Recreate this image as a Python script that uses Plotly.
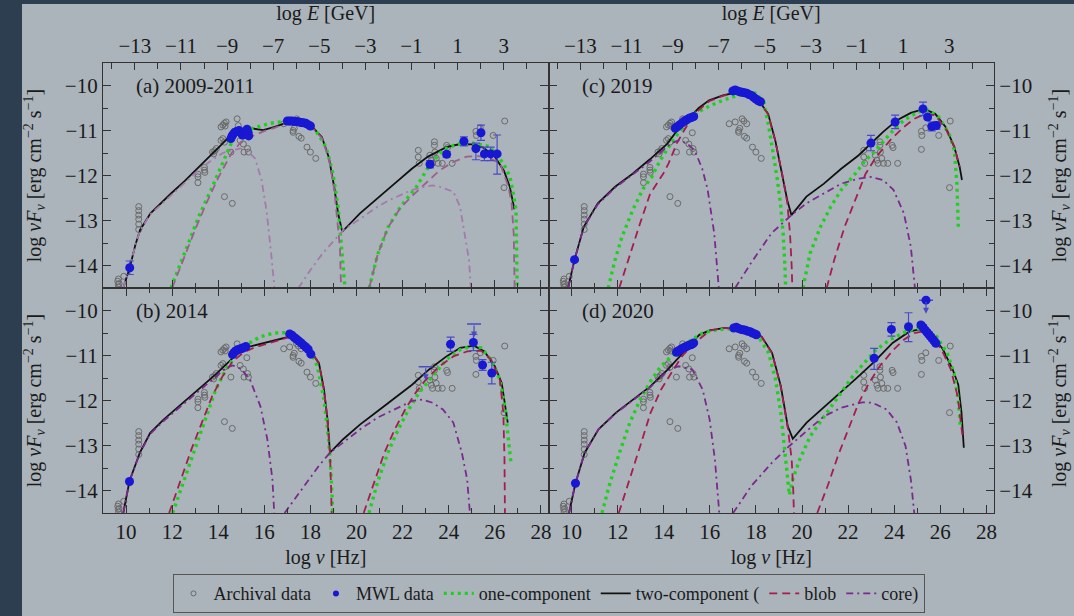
import plotly.graph_objects as go

# ---------------- axes ----------------
X_RANGE = [9.0, 28.33]
Y_RANGE = [-14.5, -9.5]
LOG_H_GEV_S = -23.383  # log E[GeV] = log nu[Hz] + log h[GeV s]

# ---------------- archival data (identical in all panels) ----------------
ARCH_X = [9.64, 9.66, 9.68, 9.70, 9.67, 9.9,
          10.55, 10.55, 10.55, 10.55, 10.55, 10.55,
          13.12, 13.12, 13.12, 13.4, 13.4, 13.42,
          13.75, 13.8, 13.85, 13.92, 14.12, 14.2, 14.27,
          14.12, 14.2, 14.27, 14.34, 14.3, 14.82, 14.87,
          14.55, 14.95, 15.09, 15.12, 15.27, 15.31, 15.24,
          14.27, 14.61,
          16.84, 17.1, 17.25, 17.3, 17.4, 17.48, 17.25, 17.5, 17.6, 17.85, 18.0, 18.23, 17.6,
          22.68, 22.68, 22.72, 23.18, 23.25, 23.3, 23.38, 23.38, 23.4, 23.46, 23.54,
          23.72, 23.91, 23.95, 24.15, 25.18, 25.2, 25.37, 25.18, 25.93, 26.4, 26.43]
ARCH_Y = [-14.35, -14.42, -14.48, -14.40, -14.3, -14.24,
          -12.69, -12.78, -12.88, -12.97, -13.08, -13.2,
          -11.97, -12.03, -12.16, -11.82, -11.88, -11.93,
          -11.48, -11.52, -11.45, -11.4, -11.22, -11.18, -11.26,
          -10.92, -10.88, -10.84, -10.81, -10.9, -10.74, -10.89,
          -11.48, -11.22, -11.3, -11.48, -11.4, -11.48, -11.05,
          -12.47, -12.62,
          -10.85, -10.81, -11.0, -10.95, -10.74, -10.79, -11.04, -11.13, -11.17, -11.37, -11.48, -11.62, -10.85,
          -11.44, -11.59, -11.73, -11.55, -11.66, -11.73, -11.25, -11.33, -11.48, -11.62, -11.73,
          -11.73, -11.33, -11.38, -11.73, -11.02, -11.11, -10.94, -11.42, -11.11, -12.27, -10.79]

# ---------------- panel (a) 2009-2011 ----------------
A_ONE_SYNC_X = [11.95, 12.55, 13.15, 13.72, 14.22, 14.44, 14.66, 15.24, 15.67, 16.25, 16.82, 17.4, 17.9, 18.23, 18.68, 18.98, 19.2, 19.35, 19.5]
A_ONE_SYNC_Y = [-14.5, -13.73, -12.92, -12.28, -11.69, -11.43, -11.17, -10.99, -10.92, -10.84, -10.8, -10.8, -10.86, -11.0, -11.37, -11.96, -12.7, -13.58, -14.5]
A_ONE_IC_X = [20.55, 20.92, 21.37, 21.9, 22.6, 23.19, 23.77, 24.35, 25.07, 25.79, 26.37, 26.66, 26.8, 26.92, 26.97]
A_ONE_IC_Y = [-14.5, -13.75, -13.15, -12.7, -12.25, -11.75, -11.43, -11.3, -11.28, -11.36, -11.73, -12.03, -12.4, -12.77, -14.5]
A_TWO_X = [9.88, 10.16, 10.4, 10.61, 11.06, 11.5, 11.95, 12.55, 13.15, 13.75, 14.2, 14.6, 14.95, 15.4, 15.95, 16.45, 17.0, 17.6, 18.1, 18.5, 18.8, 19.03, 19.2, 19.38,
           20.15, 20.9, 21.65, 22.4, 23.1, 23.9, 24.5, 25.0, 25.5, 26.0, 26.4, 26.65, 26.85]
A_TWO_Y = [-14.5, -14.05, -13.55, -13.21, -12.84, -12.62, -12.40, -12.12, -11.81, -11.5, -11.28, -11.08, -10.97, -10.95, -10.99, -10.92, -10.82, -10.84, -10.93, -11.15, -11.6, -12.25, -12.84, -13.25,
           -12.84, -12.52, -12.18, -11.85, -11.58, -11.37, -11.3, -11.31, -11.38, -11.58, -11.9, -12.25, -12.75]
A_BLOB_SYNC_X = [12.0, 12.5, 13.0, 13.5, 14.0, 14.58, 15.0, 15.54, 15.96, 16.45, 17.0, 17.6, 18.1, 18.5, 18.8, 19.03, 19.18, 19.28, 19.33]
A_BLOB_SYNC_Y = [-14.5, -13.85, -13.2, -12.6, -12.05, -11.5, -11.25, -11.11, -11.02, -10.94, -10.83, -10.86, -10.95, -11.17, -11.62, -12.3, -13.0, -13.6, -14.5]
A_BLOB_IC_X = [20.55, 20.92, 21.37, 21.9, 22.42, 23.16, 23.62, 24.2, 24.78, 25.3, 25.8, 26.23, 26.59, 26.73, 26.82, 26.86]
A_BLOB_IC_Y = [-14.5, -13.75, -13.15, -12.72, -12.45, -12.1, -11.88, -11.7, -11.58, -11.57, -11.62, -11.73, -12.25, -12.62, -13.3, -14.5]
A_CORE_SYNC_X = [9.88, 10.16, 10.4, 10.61, 11.06, 11.5, 11.95, 12.55, 13.15, 13.72, 14.2, 14.66, 14.95, 15.25, 15.6, 15.88, 16.1, 16.29, 16.44]
A_CORE_SYNC_Y = [-14.5, -14.05, -13.55, -13.22, -12.86, -12.65, -12.44, -12.15, -11.88, -11.66, -11.5, -11.43, -11.4, -11.45, -11.62, -12.1, -12.8, -13.7, -14.5]
A_CORE_IC_X = [17.48, 18.0, 18.53, 19.0, 19.43, 20.2, 20.92, 21.45, 22.42, 22.9, 23.3, 23.62, 24.2, 24.49, 24.7, 24.88, 24.96]
A_CORE_IC_Y = [-14.5, -14.1, -13.73, -13.45, -13.21, -12.95, -12.69, -12.54, -12.32, -12.26, -12.22, -12.25, -12.36, -12.69, -13.3, -13.87, -14.5]
A_MWL_X = [10.16,
           14.55, 14.6, 14.65, 14.72, 14.8, 14.9, 14.98, 15.05, 15.1, 15.18, 15.25, 15.3, 15.32,
           17.0, 17.1, 17.2, 17.3, 17.4, 17.5, 17.6, 17.7, 17.8, 17.9, 18.0,
           23.19, 23.91, 24.66, 25.18, 25.4, 25.55, 25.82, 26.1]
A_MWL_Y = [-14.05,
           -11.18, -11.12, -11.08, -11.04, -11.02, -11.0, -11.05, -11.1, -11.08, -11.03, -10.97, -11.05, -11.12,
           -10.79, -10.79, -10.79, -10.8, -10.8, -10.81, -10.82, -10.83, -10.84, -10.87, -10.9,
           -11.75, -11.53, -11.24, -11.40, -11.05, -11.52, -11.52, -11.52]
A_MWL_EP = [0.15] + [0] * 24 + [0.08, 0.06, 0.1, 0.12, 0.17, 0.15, 0.15, 0.42]
A_MWL_EM = [0.15] + [0] * 24 + [0.08, 0.06, 0.1, 0.25, 0.17, 0.15, 0.15, 0.45]

# ---------------- panel (b) 2014 ----------------
B_ONE_SYNC_X = [12.02, 12.54, 12.99, 13.44, 13.89, 14.33, 14.78, 15.23, 15.83, 16.43, 17.03, 17.47, 17.92, 18.3, 18.59, 18.79, 18.89, 18.97]
B_ONE_SYNC_Y = [-14.5, -13.75, -13.08, -12.42, -11.76, -11.31, -10.98, -10.76, -10.58, -10.5, -10.49, -10.58, -10.8, -11.24, -11.98, -12.86, -13.6, -14.5]
B_ONE_IC_X = [20.54, 20.91, 21.36, 21.81, 22.26, 22.71, 23.3, 23.9, 24.5, 24.95, 25.4, 25.84, 26.22, 26.44, 26.59, 26.7]
B_ONE_IC_Y = [-14.5, -13.82, -13.16, -12.64, -12.2, -11.83, -11.46, -11.09, -10.87, -10.8, -10.83, -11.09, -11.54, -12.13, -12.86, -13.38]
B_TWO_X = [9.88, 10.15, 10.6, 11.05, 11.64, 12.39, 13.14, 13.89, 14.48, 14.93, 15.38, 15.98, 16.58, 17.03, 17.47, 17.92, 18.37, 18.59, 18.74, 18.85,
           19.42, 20.16, 20.91, 21.66, 22.41, 23.15, 23.9, 24.5, 25.1, 25.55, 26.0, 26.3, 26.47, 26.56]
B_TWO_Y = [-14.5, -13.79, -13.16, -12.72, -12.42, -12.09, -11.76, -11.42, -11.13, -10.91, -10.8, -10.72, -10.65, -10.59, -10.69, -10.83, -11.17, -11.76, -12.42, -13.16,
           -12.86, -12.53, -12.24, -11.94, -11.65, -11.31, -11.02, -10.83, -10.78, -10.91, -11.24, -11.61, -12.13, -12.49]
B_BLOB_SYNC_X = [11.87, 12.39, 12.84, 13.29, 13.74, 14.19, 14.63, 15.08, 15.53, 15.98, 16.58, 17.03, 17.47, 17.92, 18.37, 18.59, 18.74, 18.85, 18.9, 18.92]
B_BLOB_SYNC_Y = [-14.5, -13.75, -13.08, -12.49, -11.9, -11.46, -11.13, -10.94, -10.83, -10.76, -10.67, -10.6, -10.69, -10.84, -11.18, -11.77, -12.43, -13.2, -14.0, -14.5]
B_BLOB_IC_X = [20.31, 20.76, 21.21, 21.66, 22.11, 22.56, 23.0, 23.6, 24.2, 24.8, 25.4, 25.84, 26.22, 26.37, 26.42, 26.44]
B_BLOB_IC_Y = [-14.5, -13.82, -13.16, -12.64, -12.2, -11.83, -11.54, -11.24, -11.02, -10.91, -10.89, -11.09, -11.54, -12.27, -13.3, -14.5]
B_CORE_SYNC_X = [9.88, 10.15, 10.6, 11.05, 11.64, 12.39, 13.14, 13.89, 14.33, 14.63, 15.0, 15.38, 15.83, 16.13, 16.35, 16.43]
B_CORE_SYNC_Y = [-14.5, -13.79, -13.17, -12.74, -12.45, -12.12, -11.8, -11.47, -11.28, -11.22, -11.3, -11.54, -12.13, -12.86, -13.75, -14.5]
B_CORE_IC_X = [16.88, 17.62, 18.37, 18.85, 19.42, 20.16, 20.91, 21.66, 22.41, 22.86, 23.3, 23.75, 24.2, 24.57, 24.8, 24.92]
B_CORE_IC_Y = [-14.5, -13.97, -13.45, -13.16, -12.94, -12.64, -12.38, -12.2, -12.01, -11.98, -12.05, -12.2, -12.49, -13.16, -13.75, -14.5]
B_MWL_X = [10.15,
           14.62, 14.68, 14.75, 14.82, 14.9, 14.98, 15.05, 15.12, 15.2,
           17.1, 17.2, 17.3, 17.4, 17.5, 17.6, 17.7, 17.8, 17.9, 18.02,
           24.08, 25.07, 25.47, 25.87]
B_MWL_Y = [-13.8,
           -10.98, -10.94, -10.9, -10.88, -10.86, -10.85, -10.84, -10.82, -10.8,
           -10.52, -10.55, -10.6, -10.64, -10.68, -10.72, -10.77, -10.81, -10.86, -10.97,
           -10.75, -10.71, -11.21, -11.39]
B_MWL_EP = [0] + [0] * 19 + [0.16, 0.18, 0.12, 0.24]
B_MWL_EM = [0] + [0] * 19 + [0.16, 0.18, 0.12, 0.24]
B_UL_X = [23.0, 25.1]
B_UL_Y = [-11.25, -10.3]

# ---------------- panel (c) 2019 ----------------
C_ONE_SYNC_X = [11.59, 11.89, 12.19, 12.65, 13.1, 13.48, 13.85, 14.5, 15.37, 16.09, 16.68, 17.26, 17.98, 18.34, 18.56, 18.78, 18.92, 19.06, 19.18, 19.26, 19.29]
C_ONE_SYNC_Y = [-14.5, -13.87, -13.36, -12.77, -12.3, -12.03, -11.66, -11.14, -10.62, -10.43, -10.31, -10.21, -10.17, -10.36, -10.92, -11.58, -12.06, -12.6, -13.28, -14.02, -14.5]
C_ONE_IC_X = [20.04, 20.35, 20.8, 21.25, 21.7, 22.31, 22.76, 23.21, 23.82, 24.42, 25.02, 25.48, 25.93, 26.38, 26.61, 26.72, 26.78]
C_ONE_IC_Y = [-14.5, -13.73, -13.14, -12.69, -12.32, -11.96, -11.66, -11.44, -11.07, -10.77, -10.59, -10.55, -10.7, -11.07, -11.44, -12.18, -13.14]
C_TWO_X = [9.85, 10.13, 10.53, 11.14, 11.89, 12.65, 13.4, 14.16, 14.61, 15.06, 15.52, 15.97, 16.57, 17.18, 17.63, 18.08, 18.53, 18.84, 19.14, 19.36, 19.54,
           20.19, 20.95, 21.7, 22.46, 22.99, 23.52, 24.12, 24.72, 25.3, 25.78, 26.23, 26.61, 26.84, 26.94]
C_TWO_Y = [-14.5, -13.87, -13.14, -12.62, -12.25, -11.96, -11.64, -11.29, -10.98, -10.74, -10.5, -10.33, -10.22, -10.15, -10.17, -10.3, -10.63, -11.22, -11.96, -12.55, -12.88,
           -12.47, -12.18, -11.85, -11.55, -11.29, -11.03, -10.77, -10.61, -10.52, -10.63, -10.92, -11.37, -11.81, -12.1]
C_BLOB_SYNC_X = [12.07, 12.5, 12.95, 13.4, 13.99, 14.21, 14.57, 15.0, 15.4, 15.97, 16.57, 17.18, 17.63, 18.08, 18.53, 18.84, 19.14, 19.36, 19.48, 19.55, 19.58]
C_BLOB_SYNC_Y = [-14.5, -13.8, -13.1, -12.42, -11.95, -11.73, -11.28, -10.9, -10.6, -10.35, -10.23, -10.16, -10.18, -10.31, -10.64, -11.23, -11.97, -12.6, -13.3, -14.0, -14.5]
C_BLOB_IC_X = [21.07, 21.4, 21.85, 22.31, 22.76, 23.21, 23.82, 24.42, 24.87, 25.33, 25.78, 26.23, 26.61, 26.84]
C_BLOB_IC_Y = [-14.5, -13.87, -13.14, -12.55, -11.96, -11.59, -11.22, -10.92, -10.74, -10.63, -10.66, -10.96, -11.37, -11.81]
C_CORE_SYNC_X = [9.85, 10.13, 10.53, 11.14, 11.89, 12.65, 13.4, 14.0, 14.35, 14.64, 15.0, 15.35, 15.67, 15.9, 16.19, 16.39]
C_CORE_SYNC_Y = [-14.5, -13.87, -13.15, -12.64, -12.27, -11.98, -11.69, -11.42, -11.28, -11.22, -11.28, -11.45, -11.85, -12.3, -13.28, -14.5]
C_CORE_IC_X = [17.1, 17.78, 18.68, 19.54, 20.19, 20.95, 21.7, 22.46, 22.99, 23.52, 23.97, 24.42, 24.72, 24.9]
C_CORE_IC_Y = [-14.5, -13.95, -13.28, -12.88, -12.62, -12.4, -12.18, -12.07, -12.03, -12.1, -12.32, -12.84, -13.58, -14.5]
C_MWL_X = [10.13,
           14.5, 14.6, 14.7, 14.8, 14.9, 15.0, 15.1, 15.2, 15.3,
           17.0, 17.1, 17.2, 17.3, 17.4, 17.5, 17.6, 17.7, 17.8, 17.9, 18.0, 18.1, 18.2,
           22.99, 24.04, 25.25, 25.45, 25.63, 25.83]
C_MWL_Y = [-13.87,
           -10.95, -10.91, -10.87, -10.83, -10.79, -10.76, -10.73, -10.71, -10.69,
           -10.12, -10.1, -10.12, -10.14, -10.15, -10.16, -10.17, -10.2, -10.22, -10.26, -10.3, -10.34, -10.36,
           -11.28, -10.81, -10.52, -10.7, -10.91, -10.89]
C_MWL_EP = [0] * 23 + [0.17, 0.15, 0.15, 0.05, 0.1, 0.08]
C_MWL_EM = [0] * 23 + [0.17, 0.15, 0.15, 0.05, 0.1, 0.08]

# ---------------- panel (d) 2020 ----------------
D_ONE_X = [11.32, 11.63, 12.08, 12.53, 12.98, 13.43, 13.88, 14.49, 15.09, 15.69, 16.29, 16.89, 17.5, 18.1, 18.55, 18.85, 19.08, 19.23, 19.33, 19.45,
           19.6, 19.9, 20.36, 20.96, 21.56, 22.16, 22.62, 23.2, 23.78, 24.5, 25.0, 25.38, 25.85, 26.3, 26.6, 26.78, 26.87]
D_ONE_Y = [-14.5, -13.9, -13.16, -12.49, -11.98, -11.57, -11.24, -10.94, -10.69, -10.5, -10.43, -10.41, -10.43, -10.58, -10.94, -11.53, -12.27, -13.01, -13.6, -14.1,
           -13.75, -13.31, -12.79, -12.35, -11.9, -11.49, -11.21, -10.88, -10.66, -10.47, -10.4, -10.42, -10.58, -10.95, -11.4, -12.0, -12.57]
D_TWO_X = [9.89, 10.17, 10.57, 11.17, 11.93, 12.68, 13.43, 14.18, 14.64, 15.09, 15.54, 15.99, 16.59, 17.19, 17.8, 18.25, 18.7, 19.08, 19.38, 19.6,
           20.2, 20.96, 21.71, 22.33, 23.13, 23.93, 24.65, 25.08, 25.52, 26.1, 26.53, 26.78, 26.92, 27.02]
D_TWO_Y = [-14.5, -13.84, -13.16, -12.64, -12.27, -11.98, -11.68, -11.31, -11.06, -10.8, -10.54, -10.44, -10.39, -10.39, -10.46, -10.58, -10.94, -11.68, -12.57, -12.85,
           -12.49, -12.15, -11.8, -11.52, -11.14, -10.72, -10.47, -10.42, -10.5, -10.85, -11.3, -11.65, -12.27, -13.05]
D_BLOB_SYNC_X = [12.05, 12.53, 12.98, 13.43, 13.88, 14.33, 14.79, 15.24, 15.69, 16.0, 16.6, 17.2, 17.8, 18.25, 18.7, 19.08, 19.38, 19.55, 19.62, 19.65]
D_BLOB_SYNC_Y = [-14.5, -13.75, -13.01, -12.27, -11.76, -11.39, -11.02, -10.76, -10.58, -10.45, -10.39, -10.4, -10.47, -10.59, -10.95, -11.7, -12.6, -13.3, -14.0, -14.5]
D_BLOB_IC_X = [20.66, 21.11, 21.56, 22.01, 22.46, 22.91, 23.37, 23.97, 24.42, 24.87, 25.32, 25.7, 26.1, 26.45, 26.75, 26.98]
D_BLOB_IC_Y = [-14.5, -13.9, -13.23, -12.64, -12.05, -11.61, -11.24, -10.87, -10.65, -10.5, -10.46, -10.58, -10.92, -11.3, -11.9, -12.86]
D_CORE_SYNC_X = [9.89, 10.17, 10.57, 11.17, 11.93, 12.68, 13.43, 14.0, 14.3, 14.64, 15.24, 15.69, 15.99, 16.22, 16.41]
D_CORE_SYNC_Y = [-14.5, -13.84, -13.16, -12.64, -12.28, -12.0, -11.7, -11.42, -11.3, -11.24, -11.31, -11.76, -12.42, -13.31, -14.5]
D_CORE_IC_X = [17.01, 17.8, 18.7, 19.45, 20.2, 20.96, 21.71, 22.61, 23.06, 23.67, 24.12, 24.49, 24.72, 24.87]
D_CORE_IC_Y = [-14.5, -13.9, -13.38, -13.01, -12.68, -12.35, -12.16, -12.04, -12.05, -12.2, -12.49, -13.01, -13.75, -14.5]
D_MWL_X = [10.17,
           14.55, 14.62, 14.7, 14.78, 14.86, 14.94, 15.02, 15.1, 15.18, 15.26, 15.3,
           17.04, 17.15, 17.25, 17.35, 17.45, 17.55, 17.65, 17.75, 17.85, 17.95, 18.02,
           23.13, 23.88, 24.62,
           25.16, 25.25, 25.33, 25.42, 25.5, 25.58, 25.66, 25.74, 25.81]
D_MWL_Y = [-13.84,
           -10.93, -10.9, -10.88, -10.85, -10.83, -10.81, -10.79, -10.77, -10.76, -10.74, -10.72,
           -10.39, -10.37, -10.4, -10.42, -10.43, -10.44, -10.46, -10.47, -10.5, -10.52, -10.54,
           -11.06, -10.42, -10.36,
           -10.32, -10.37, -10.43, -10.48, -10.53, -10.58, -10.63, -10.68, -10.73]
D_MWL_EP = [0] * 23 + [0.22, 0.15, 0.31] + [0.05] * 9
D_MWL_EM = [0] * 23 + [0.25, 0.15, 0.33] + [0.05] * 9
D_UL_X = [25.38]
D_UL_Y = [-9.77]

# ---------------- styling ----------------
FONT = "Liberation Serif"
BG = "#abb4bb"
DARK = "#2c3e50"
FRAME = "#333333"
TXT = "#1a1a1a"
GREEN = "#1fd01f"
BLACK = "#111111"
BLOB = "#a51d4f"
CORE = "#7a2a8c"
BLOB_FADED = "#9b5f8e"
CORE_FADED = "#a47aaa"
MWL = "#1717d4"
MWL_ERR = "#4a4ac4"
ARCH = "#6a6a6a"

fig = go.Figure()


def seg(a, b):
    return list(a) + [None] + list(b)


def add_panel(xa, ya, one_x, one_y, two_x, two_y, blob_x, blob_y, core_x, core_y,
              mwl_x, mwl_y, ep, em, blob_col, core_col, ul_x=None, ul_y=None, ul_dot=False):
    common = dict(xaxis=xa, yaxis=ya, showlegend=False, hoverinfo="skip")
    fig.add_trace(go.Scatter(x=ARCH_X, y=ARCH_Y, mode="markers",
                             marker=dict(symbol="circle-open", size=6, color=ARCH, line=dict(width=1)),
                             **common))
    fig.add_trace(go.Scatter(x=two_x, y=two_y, mode="lines",
                             line=dict(color=BLACK, width=1.8), **common))
    fig.add_trace(go.Scatter(x=one_x, y=one_y, mode="lines",
                             line=dict(color=GREEN, width=3.4, dash="3px,4px"), **common))
    fig.add_trace(go.Scatter(x=blob_x, y=blob_y, mode="lines",
                             line=dict(color=blob_col, width=1.8, dash="8px,5px"), **common))
    fig.add_trace(go.Scatter(x=core_x, y=core_y, mode="lines",
                             line=dict(color=core_col, width=1.8, dash="7px,4px,2px,4px"), **common))
    fig.add_trace(go.Scatter(x=mwl_x, y=mwl_y, mode="markers",
                             marker=dict(symbol="circle", size=9, color=MWL),
                             error_y=dict(type="data", symmetric=False, array=ep, arrayminus=em,
                                          color=MWL_ERR, thickness=1.2, width=4),
                             **common))
    if ul_x:
        fig.add_trace(go.Scatter(x=ul_x, y=ul_y, mode="markers",
                                 marker=dict(symbol="line-ew", size=10, line=dict(color=MWL_ERR, width=1.5)),
                                 **common))
        if ul_dot:
            fig.add_trace(go.Scatter(x=ul_x, y=ul_y, mode="markers",
                                     marker=dict(symbol="circle", size=9, color=MWL), **common))
        for ux, uy in zip(ul_x, ul_y):
            fig.add_annotation(x=ux, y=uy - 0.3, ax=ux, ay=uy, xref=xa, yref=ya,
                               axref=xa, ayref=ya, showarrow=True, arrowhead=2,
                               arrowsize=1, arrowwidth=1.2, arrowcolor=MWL_ERR, text="")


add_panel("x", "y", seg(A_ONE_SYNC_X, A_ONE_IC_X), seg(A_ONE_SYNC_Y, A_ONE_IC_Y), A_TWO_X, A_TWO_Y,
          seg(A_BLOB_SYNC_X, A_BLOB_IC_X), seg(A_BLOB_SYNC_Y, A_BLOB_IC_Y),
          seg(A_CORE_SYNC_X, A_CORE_IC_X), seg(A_CORE_SYNC_Y, A_CORE_IC_Y),
          A_MWL_X, A_MWL_Y, A_MWL_EP, A_MWL_EM, BLOB_FADED, CORE_FADED)
add_panel("x2", "y2", seg(C_ONE_SYNC_X, C_ONE_IC_X), seg(C_ONE_SYNC_Y, C_ONE_IC_Y), C_TWO_X, C_TWO_Y,
          seg(C_BLOB_SYNC_X, C_BLOB_IC_X), seg(C_BLOB_SYNC_Y, C_BLOB_IC_Y),
          seg(C_CORE_SYNC_X, C_CORE_IC_X), seg(C_CORE_SYNC_Y, C_CORE_IC_Y),
          C_MWL_X, C_MWL_Y, C_MWL_EP, C_MWL_EM, BLOB, CORE)
add_panel("x3", "y3", seg(B_ONE_SYNC_X, B_ONE_IC_X), seg(B_ONE_SYNC_Y, B_ONE_IC_Y), B_TWO_X, B_TWO_Y,
          seg(B_BLOB_SYNC_X, B_BLOB_IC_X), seg(B_BLOB_SYNC_Y, B_BLOB_IC_Y),
          seg(B_CORE_SYNC_X, B_CORE_IC_X), seg(B_CORE_SYNC_Y, B_CORE_IC_Y),
          B_MWL_X, B_MWL_Y, B_MWL_EP, B_MWL_EM, BLOB, CORE, B_UL_X, B_UL_Y)
add_panel("x4", "y4", D_ONE_X, D_ONE_Y, D_TWO_X, D_TWO_Y,
          seg(D_BLOB_SYNC_X, D_BLOB_IC_X), seg(D_BLOB_SYNC_Y, D_BLOB_IC_Y),
          seg(D_CORE_SYNC_X, D_CORE_IC_X), seg(D_CORE_SYNC_Y, D_CORE_IC_Y),
          D_MWL_X, D_MWL_Y, D_MWL_EP, D_MWL_EM, BLOB, CORE, D_UL_X, D_UL_Y, ul_dot=True)

# empty traces so the top energy axes get drawn
fig.add_trace(go.Scatter(x=[], y=[], xaxis="x5", yaxis="y", showlegend=False, hoverinfo="skip"))
fig.add_trace(go.Scatter(x=[], y=[], xaxis="x6", yaxis="y2", showlegend=False, hoverinfo="skip"))

# legend-only entries
LEG = dict(x=[None], y=[None], xaxis="x", yaxis="y", hoverinfo="skip", showlegend=True)
fig.add_trace(go.Scatter(name="Archival data", mode="markers",
                         marker=dict(symbol="circle-open", size=5, color=ARCH, line=dict(width=1)), **LEG))
fig.add_trace(go.Scatter(name="MWL data", mode="markers",
                         marker=dict(symbol="circle", size=6, color=MWL), **LEG))
fig.add_trace(go.Scatter(name="one-component", mode="lines",
                         line=dict(color=GREEN, width=3.4, dash="3px,4px"), **LEG))
fig.add_trace(go.Scatter(name="two-component (", mode="lines",
                         line=dict(color=BLACK, width=1.8), **LEG))
fig.add_trace(go.Scatter(name="blob", mode="lines",
                         line=dict(color=BLOB, width=1.8, dash="8px,5px"), **LEG))
fig.add_trace(go.Scatter(name="core)", mode="lines",
                         line=dict(color=CORE, width=1.8, dash="7px,4px,2px,4px"), **LEG))

TICKFONT = dict(family=FONT, size=21, color=TXT)
TITLEFONT = dict(family=FONT, size=20, color=TXT)
base_x = dict(range=X_RANGE, showline=True, linecolor=FRAME, linewidth=1.3, ticks="inside",
              ticklen=8, tickwidth=1, tickcolor=FRAME, tick0=10, dtick=2,
              minor=dict(dtick=1, ticklen=5, ticks="inside", tickcolor=FRAME),
              showgrid=False, zeroline=False, tickfont=TICKFONT)
base_y = dict(range=Y_RANGE, showline=True, linecolor=FRAME, linewidth=1.3, ticks="inside",
              ticklen=8, tickwidth=1, tickcolor=FRAME, tick0=-10, dtick=1,
              minor=dict(dtick=0.5, ticklen=5, ticks="inside", tickcolor=FRAME),
              showgrid=False, zeroline=False, tickfont=TICKFONT, mirror="ticks")
E_RANGE = [X_RANGE[0] + LOG_H_GEV_S, X_RANGE[1] + LOG_H_GEV_S]
base_e = dict(range=E_RANGE, showline=True, linecolor=FRAME, linewidth=1.3, ticks="inside",
              ticklen=7, tickwidth=1, tickcolor=FRAME, tick0=-13, dtick=2,
              minor=dict(dtick=1, ticklen=6, ticks="inside", tickcolor=FRAME),
              showgrid=False, zeroline=False, tickfont=TICKFONT, side="top",
              title=dict(text="log <i>E</i> [GeV]", font=TITLEFONT, standoff=8))
YTITLE = "log <i>νF<sub>ν</sub></i> [erg cm<sup>−2</sup> s<sup>−1</sup>]"
XTITLE = dict(text="log <i>ν</i> [Hz]", font=TITLEFONT, standoff=6)

fig.update_layout(
    width=1074, height=616,
    margin=dict(l=103, r=80, t=63, b=103, autoexpand=False),
    paper_bgcolor=BG, plot_bgcolor=BG,
    font=dict(family=FONT, color=TXT),
    xaxis=dict(base_x, domain=[0, 0.5], anchor="y", showticklabels=False),
    xaxis2=dict(base_x, domain=[0.5, 1], anchor="y2", showticklabels=False),
    xaxis3=dict(base_x, domain=[0, 0.5], anchor="y3", mirror="ticks", title=XTITLE),
    xaxis4=dict(base_x, domain=[0.5, 1], anchor="y4", mirror="ticks", title=XTITLE),
    xaxis5=dict(base_e, overlaying="x", anchor="y"),
    xaxis6=dict(base_e, overlaying="x2", anchor="y2"),
    yaxis=dict(base_y, domain=[0.5, 1], anchor="x", side="left",
               title=dict(text=YTITLE, font=TITLEFONT, standoff=17)),
    yaxis2=dict(base_y, domain=[0.5, 1], anchor="x2", side="right",
                title=dict(text=YTITLE, font=TITLEFONT, standoff=20)),
    yaxis3=dict(base_y, domain=[0, 0.5], anchor="x3", side="left",
                title=dict(text=YTITLE, font=TITLEFONT, standoff=17)),
    yaxis4=dict(base_y, domain=[0, 0.5], anchor="x4", side="right",
                title=dict(text=YTITLE, font=TITLEFONT, standoff=20)),
    legend=dict(orientation="h", x=0.5, xanchor="center", y=-0.136, yanchor="top",
                bgcolor=BG, bordercolor="#555555", borderwidth=1,
                font=dict(family=FONT, size=18, color=TXT), itemwidth=30,
                traceorder="normal"),
    showlegend=True,
)

# panel labels
for xa, ya, label in [("x", "y", "(a) 2009-2011"), ("x2", "y2", "(c) 2019"),
                      ("x3", "y3", "(b) 2014"), ("x4", "y4", "(d) 2020")]:
    fig.add_annotation(x=0.07, y=0.9, xref=f"{xa} domain", yref=f"{ya} domain",
                       text=label, showarrow=False, xanchor="left", yanchor="middle",
                       font=dict(family=FONT, size=21, color=TXT))

# dark strips framing the picture (left and top edges)
fig.add_shape(type="rect", xref="paper", yref="paper", x0=-0.2, x1=-0.0909, y0=-0.4, y1=1.3,
              fillcolor=DARK, line=dict(width=0), layer="above")
fig.add_shape(type="rect", xref="paper", yref="paper", x0=-0.2, x1=1.2, y0=1.1311, y1=1.3,
              fillcolor=DARK, line=dict(width=0), layer="above")

fig.write_html("out.html")
